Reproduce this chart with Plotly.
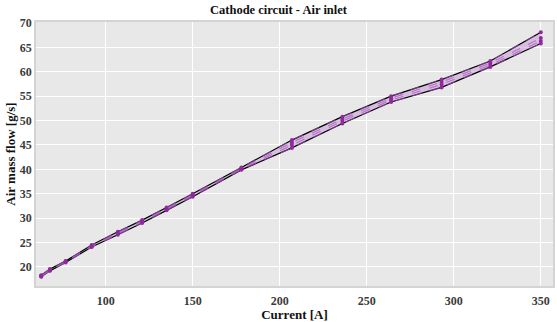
import numpy as np
import plotly.graph_objects as go

# Stack current [A]
current = [63, 68, 77, 92, 107, 121, 135, 150, 178, 207, 236, 264, 293, 321, 350]

# Air mass flow [g/s] measured on four runs
run_1 = [18.3, 19.6, 21.2, 24.5, 27.2, 29.6, 32.2, 35.0, 40.4, 46.0, 50.8, 55.0, 58.4, 62.2, 68.1]
run_2 = [18.2, 19.4, 21.1, 24.3, 27.0, 29.4, 32.0, 34.8, 40.2, 45.5, 50.3, 54.6, 57.9, 61.8, 66.9]
run_3 = [18.1, 19.3, 21.0, 24.2, 26.8, 29.2, 31.8, 34.6, 40.0, 45.0, 49.9, 54.2, 57.4, 61.4, 66.3]
run_4 = [18.0, 19.2, 20.9, 24.1, 26.6, 29.0, 31.6, 34.4, 39.9, 44.4, 49.4, 53.8, 56.8, 61.0, 65.8]

# Axis ticks
x_ticks = [100, 150, 200, 250, 300, 350]
y_ticks = [20, 25, 30, 35, 40, 45, 50, 55, 60, 65, 70]

runs = [run_1, run_2, run_3, run_4]
stack = np.array(runs)
upper = stack.max(axis=0)
lower = stack.min(axis=0)

serif = "Liberation Serif, Times New Roman, serif"
purple = "#8E2A9C"

fig = go.Figure()

# Envelope band
fig.add_trace(go.Scatter(x=current, y=lower, mode="lines",
                         line=dict(color="black", width=1.2), showlegend=False))
fig.add_trace(go.Scatter(x=current, y=upper, mode="lines", fill="tonexty",
                         fillcolor="rgba(205,160,220,0.6)",
                         line=dict(color="black", width=1.2), showlegend=False))

# Individual runs
for r in runs:
    fig.add_trace(go.Scatter(x=current, y=r, mode="lines+markers",
                             line=dict(color="rgba(165,85,185,0.7)", width=1.1, dash="dash"),
                             marker=dict(color=purple, size=4),
                             showlegend=False))

tick_font = dict(family=serif, size=12, color="#3a3a3a")

fig.update_layout(
    width=557, height=322,
    margin=dict(l=36, r=2, t=22, b=35),
    paper_bgcolor="white",
    plot_bgcolor="#E8E8E8",
    title=dict(text="<b>Cathode circuit - Air inlet</b>", x=0.5, xanchor="center",
               y=0.985, yanchor="top",
               font=dict(family=serif, size=12.5, color="#111")),
    font=dict(family=serif, color="#333"),
)

fig.update_xaxes(range=[60, 357], tickmode="array", tickvals=x_ticks,
                 ticktext=[f"<b>{v}</b>" for v in x_ticks],
                 gridcolor="white", gridwidth=1.2, zeroline=False,
                 showline=True, linecolor="#D4D4D4", linewidth=1.5, mirror=True,
                 tickfont=tick_font,
                 title=dict(text="<b>Current [A]</b>", standoff=3,
                            font=dict(family=serif, size=13, color="#111")),
                 ticks="", ticklabelstandoff=3)
fig.update_yaxes(range=[16.1, 70.2], tickmode="array", tickvals=y_ticks,
                 ticktext=[f"<b>{v}</b>" for v in y_ticks],
                 gridcolor="white", gridwidth=1.2, zeroline=False,
                 showline=True, linecolor="#D4D4D4", linewidth=1.5, mirror=True,
                 tickfont=tick_font,
                 title=dict(text="<b>Air mass flow [g/s]</b>", standoff=1,
                            font=dict(family=serif, size=13, color="#111")),
                 ticks="")

fig.write_html("out.html")
